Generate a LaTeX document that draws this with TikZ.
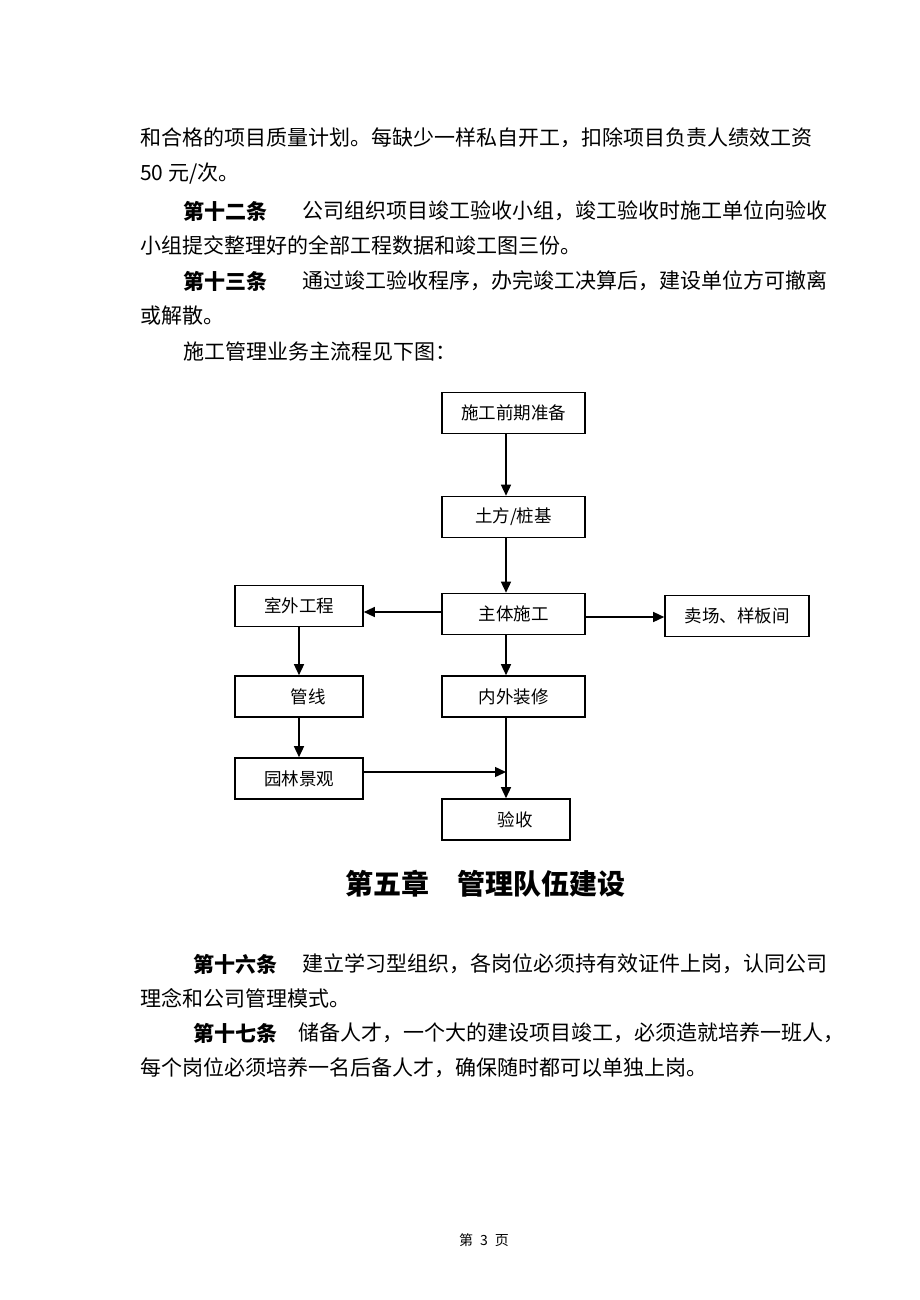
\documentclass[tikz,border=0pt]{standalone}
\usepackage{fontspec}
\setmainfont{Noto Sans CJK SC}
\usetikzlibrary{arrows.meta}
\tikzset{
  body/.style={anchor=west, inner sep=0pt, font=\fontsize{21}{24}\selectfont},
  bodyb/.style={body, font=\fontsize{21}{24}\selectfont\bfseries},
  fbox/.style={draw, line width=1.6pt, inner sep=0pt, minimum height=41pt, font=\fontsize{17.5}{20}\selectfont},
  wbox/.style={fbox, minimum width=143pt},
  nbox/.style={fbox, minimum width=128pt},
  conn/.style={line width=1.4pt, -{Triangle[length=11pt,width=10pt]}}
}
\begin{document}
\begin{tikzpicture}[x=1pt,y=-1pt]
\useasboundingbox[fill=white] (0,0) rectangle (920,1300);
% body text
\node[body] (l1) at (140,138) {和合格的项目质量计划。每缺少一样私自开工，扣除项目负责人绩效工资};
\node[body] (l2) at (140,174) {50 元/次。};
\node[bodyb] (l3a) at (183,211) {第十二条};
\node[body] (l3b) at (302,211) {公司组织项目竣工验收小组，竣工验收时施工单位向验收};
\node[body] (l4) at (140,245) {小组提交整理好的全部工程数据和竣工图三份。};
\node[bodyb] (l5a) at (183,281) {第十三条};
\node[body] (l5b) at (302,281) {通过竣工验收程序，办完竣工决算后，建设单位方可撤离};
\node[body] (l6) at (140,316) {或解散。};
\node[body] (l7) at (183,351) {施工管理业务主流程见下图：};
% flowchart
\node[wbox] (prep) at (513.5,413) {施工前期准备};
\node[wbox] (tufang) at (513.5,517) {土方/桩基};
\node[wbox] (main) at (513.5,614) {主体施工};
\node[nbox] (outdoor) at (299,606) {室外工程};
\node[fbox, minimum width=144pt] (sales) at (737,616) {卖场、样板间};
\node[nbox] (pipe) at (299,696.5) {\hspace*{18pt}管线};
\node[wbox] (deco) at (513.5,696.5) {内外装修};
\node[nbox] (garden) at (299,778.5) {园林景观};
\node[nbox] (accept) at (506,819.5) {\hspace*{18pt}验收};
\coordinate (cx) at (506,0);
\coordinate (ylft) at (0,612);
\coordinate (yrgt) at (0,617);
\coordinate (join) at (506,772);
\draw[conn] (prep.south -| cx) -- (tufang.north -| cx);
\draw[conn] (tufang.south -| cx) -- (main.north -| cx);
\draw[conn] (main.west |- ylft) -- (outdoor.east |- ylft);
\draw[conn] (main.east |- yrgt) -- (sales.west |- yrgt);
\draw[conn] (main.south -| cx) -- (deco.north -| cx);
\draw[conn] (outdoor.south) -- (pipe.north);
\draw[conn] (pipe.south) -- (garden.north);
\draw[conn] (garden.east |- join) -- (join);
\draw[conn] (deco.south -| cx) -- (accept.north -| cx);
% chapter title
\node[anchor=center, inner sep=0pt, font=\fontsize{28}{32}\selectfont\bfseries] (title) at (485,884) {第五章　管理队伍建设};
\node[bodyb] (m1a) at (193,964) {第十六条};
\node[body] (m1b) at (302,964) {建立学习型组织，各岗位必须持有效证件上岗，认同公司};
\node[body] (m2) at (140,998) {理念和公司管理模式。};
\node[bodyb] (m3a) at (193,1033) {第十七条};
\node[body] (m3b) at (298,1033) {储备人才，一个大的建设项目竣工，必须造就培养一班人，};
\node[body] (m4) at (140,1068) {每个岗位必须培养一名后备人才，确保随时都可以单独上岗。};
% page number
\node[inner sep=0pt, font=\fontsize{14}{16}\selectfont] (page) at (484,1240) {第\hspace{7pt}3\hspace{7pt}页};
\end{tikzpicture}
\end{document}
